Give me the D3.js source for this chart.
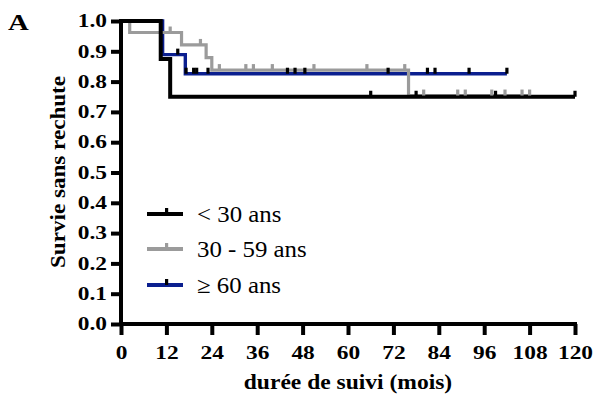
<!DOCTYPE html>
<html><head><meta charset="utf-8">
<script src="https://cdn.jsdelivr.net/npm/d3@7"></script>
<style>
html,body{margin:0;padding:0;background:#fff;}
svg{display:block;font-family:"Liberation Serif","Times New Roman",serif;}
</style></head>
<body><svg id="c" width="593" height="400"></svg>
<script>
// ---- data ----
const seriesNames = ["< 30 ans", "30 - 59 ans", "≥ 60 ans"];
const seriesColors = ["#000000", "#9b9b9b", "#0b1f8f"];
const censorColors = ["#000000", "#9b9b9b", "#000000"];

const lt30Times = [0, 10.5, 13];
const lt30Surv  = [1, 0.875, 0.75];
const lt30End   = 120;
const lt30Censor = [66, 78, 99, 120];

const mid30Times = [0, 2.3, 16, 22.5, 24, 76];
const mid30Surv  = [1, 0.962, 0.921, 0.879, 0.838, 0.754];
const mid30End   = 108;
const mid30Censor = [13, 21, 26, 33, 35, 40, 51, 65, 75, 80, 89, 91, 98, 101.5, 106, 108];

const ge60Times = [0, 11, 17];
const ge60Surv  = [1, 0.889, 0.826];
const ge60End   = 102;
const ge60Censor = [15, 17.2, 19.2, 20, 23, 44, 46, 48.6, 70.6, 81, 83, 92, 102];

const xTicks = [0, 12, 24, 36, 48, 60, 72, 84, 96, 108, 120];
const yTicks = [0, 0.1, 0.2, 0.3, 0.4, 0.5, 0.6, 0.7, 0.8, 0.9, 1.0];

// ---- chart ----
const svg = d3.select("#c");
const x = d3.scaleLinear().domain([0, 120]).range([121, 575]);
const y = d3.scaleLinear().domain([0, 1]).range([324, 21]);
const FONT = '"Liberation Serif","Times New Roman",serif';

function stretch(sel, f) {
  sel.each(function () {
    const L = this.getComputedTextLength();
    this.setAttribute("textLength", L * f);
    this.setAttribute("lengthAdjust", "spacingAndGlyphs");
  });
}

const series = [
  {times: lt30Times, surv: lt30Surv, end: lt30End, censor: lt30Censor},
  {times: mid30Times, surv: mid30Surv, end: mid30End, censor: mid30Censor},
  {times: ge60Times, surv: ge60Surv, end: ge60End, censor: ge60Censor}
];
series.forEach((s, i) => { s.name = seriesNames[i]; s.color = seriesColors[i]; s.ccolor = censorColors[i]; });

function survAt(s, t) {
  let v = s.surv[0];
  for (let k = 0; k < s.times.length; k++) if (s.times[k] <= t) v = s.surv[k];
  return v;
}

const line = d3.line().x(d => x(d[0])).y(d => y(d[1])).curve(d3.curveStepAfter);
const widths = [4, 3.2, 3.4];
const drawOrder = [2, 1, 0];

// axes
const yAxis = svg.append("g").attr("transform", "translate(121,0)")
  .call(d3.axisLeft(y).tickValues(yTicks).tickFormat(d3.format(".1f")).tickSize(10).tickSizeOuter(0).tickPadding(4));
const xAxis = svg.append("g").attr("transform", "translate(0,324)")
  .call(d3.axisBottom(x).tickValues(xTicks).tickSize(11).tickSizeOuter(0).tickPadding(11));
[yAxis, xAxis].forEach(a => {
  a.attr("font-family", null).attr("font-size", null);
  a.select(".domain").attr("stroke", "#000").attr("stroke-width", 4);
  a.selectAll(".tick line").attr("stroke", "#000").attr("stroke-width", 4);
  a.selectAll(".tick text").attr("fill", "#000")
    .style("font-family", FONT)
    .style("font-weight", "bold").style("font-size", "18px");
});
// y labels: stretch and right-align at x = -14
yAxis.selectAll(".tick text").each(function () {
  const L = this.getComputedTextLength() * 1.3;
  this.setAttribute("text-anchor", "start");
  this.setAttribute("x", -14 - L);
  this.setAttribute("textLength", L);
  this.setAttribute("lengthAdjust", "spacingAndGlyphs");
});
xAxis.selectAll(".tick text").each(function () {
  const L = this.getComputedTextLength() * 1.3;
  this.setAttribute("text-anchor", "start");
  this.setAttribute("x", -L / 2);
  this.setAttribute("textLength", L);
  this.setAttribute("lengthAdjust", "spacingAndGlyphs");
});
// extend domain lines to meet at corner
yAxis.select(".domain").attr("d", `M0,${y(0) + 2}V${y(1) - 2}`);
xAxis.select(".domain").attr("d", `M${x(0) - 2},0H${x(120) + 2}`);

// curves
drawOrder.forEach(i => {
  const s = series[i];
  const pts = s.times.map((t, k) => [t, s.surv[k]]);
  pts.push([s.end, s.surv[s.surv.length - 1]]);
  svg.append("path").attr("d", line(pts)).attr("fill", "none")
    .attr("stroke", s.color).attr("stroke-width", widths[i]);
});
// censor marks
drawOrder.forEach(i => {
  const s = series[i];
  svg.append("g").selectAll("rect").data(s.censor).join("rect")
    .attr("x", d => x(d) - 1.6).attr("y", d => y(survAt(s, d)) - 6)
    .attr("width", 3.2).attr("height", 6).attr("fill", s.ccolor);
});

// legend
const legY = [214, 249, 285];
series.forEach((s, i) => {
  const g = svg.append("g");
  g.append("line").attr("x1", 147).attr("x2", 183).attr("y1", legY[i]).attr("y2", legY[i])
    .attr("stroke", s.color).attr("stroke-width", 4);
  g.append("rect").attr("x", 165).attr("y", legY[i] - 6).attr("width", 3.2).attr("height", 6).attr("fill", s.ccolor);
  const t = g.append("text").attr("x", 197).attr("y", legY[i] + 8)
    .style("font-size", "23px").style("font-family", FONT).attr("fill", "#000").text(s.name);
  stretch(t, 1.08);
});

// axis titles
const xt = svg.append("text").attr("x", 348).attr("y", 389).attr("text-anchor", "middle")
  .style("font-size", "21px").style("font-weight", "bold").style("font-family", FONT).text("durée de suivi (mois)");
stretch(xt, 1.12);
const yt = svg.append("text").attr("transform", "translate(65,172) rotate(-90)").attr("text-anchor", "middle")
  .style("font-size", "21px").style("font-weight", "bold").style("font-family", FONT).text("Survie sans rechute");
stretch(yt, 1.1);
const A = svg.append("text").attr("x", 8).attr("y", 30)
  .style("font-size", "24px").style("font-weight", "bold").style("font-family", FONT).text("A");
stretch(A, 1.2);
</script>
</body></html>
